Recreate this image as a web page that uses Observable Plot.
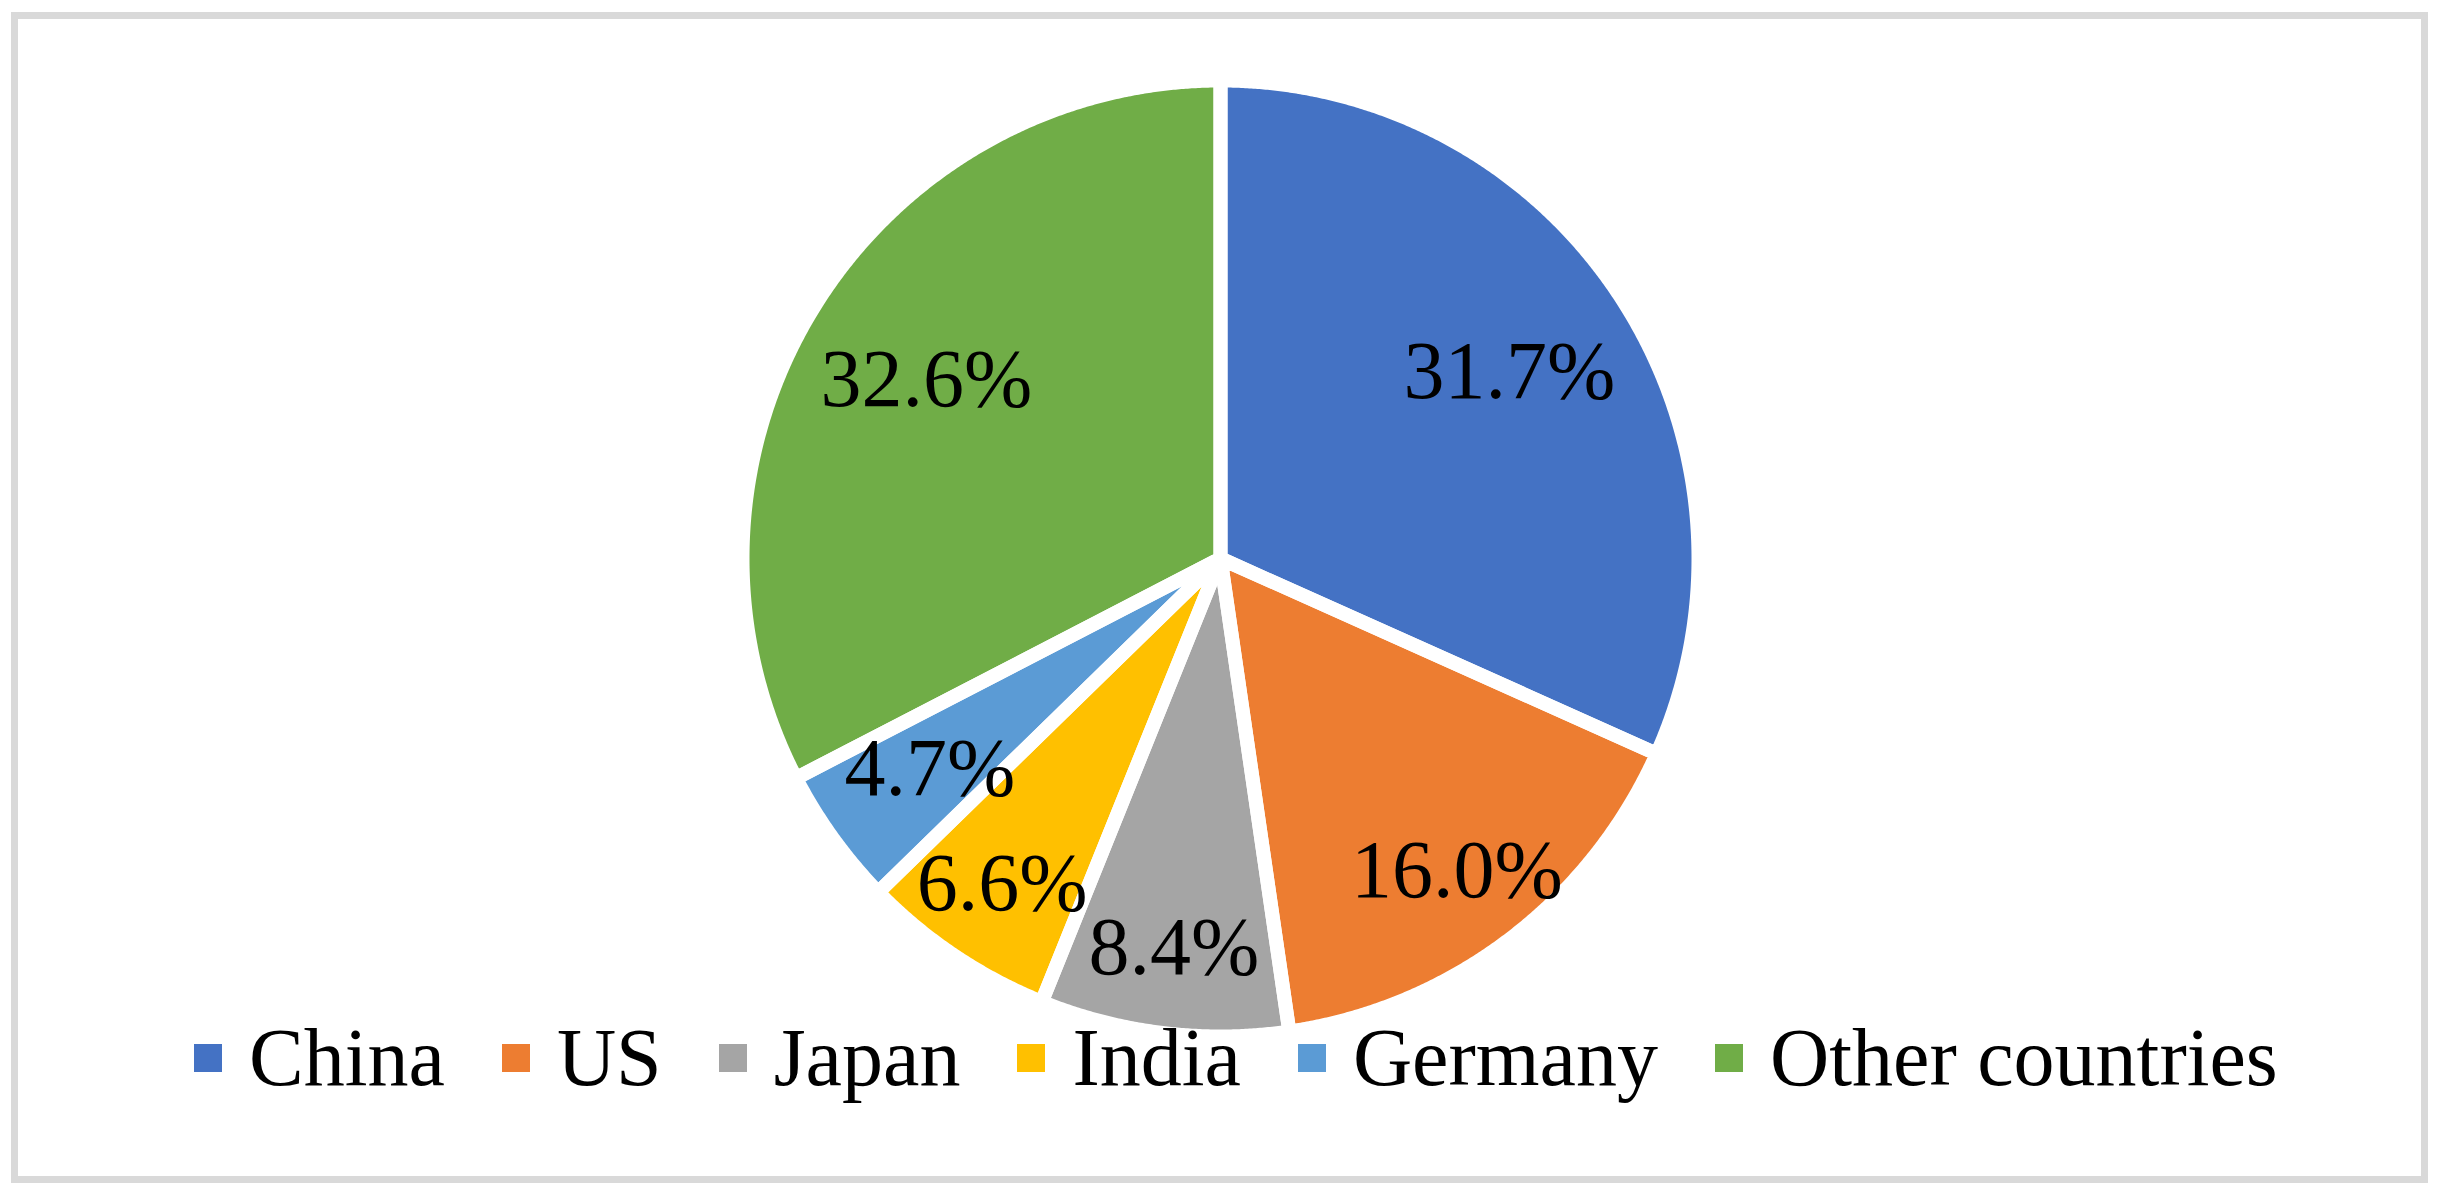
<!DOCTYPE html>
<html><head><meta charset="utf-8">
<script src="https://cdn.jsdelivr.net/npm/d3@7"></script>
<script src="https://cdn.jsdelivr.net/npm/@observablehq/plot@0.6"></script>
<style>
html,body{margin:0;padding:0;background:#fff;}
#wrap{position:relative;width:2441px;height:1196px;overflow:hidden;background:#fff;}
#frame{position:absolute;left:11px;top:12px;width:2417px;height:1171px;border:7px solid #d9d9d9;box-sizing:border-box;}
#chart{position:absolute;left:0;top:0;}
#legend{position:absolute;left:194px;top:1008px;}
.lg-swatches{font-family:"Liberation Serif","Times New Roman",serif;font-size:82px;color:#000;margin:0;height:100px;flex-wrap:nowrap;white-space:nowrap;}
.lg-swatch{margin-right:57px;}
.lg-swatch > svg{margin-right:27px;}
</style></head><body>
<div id="wrap"><div id="frame"></div><div id="chart"></div><div id="legend"></div></div>
<script>
const countries = ["China", "US", "Japan", "India", "Germany", "Other countries"];
const shares = [31.7, 16.0, 8.4, 6.6, 4.7, 32.6];
const colors = ["#4472C4", "#ED7D31", "#A5A5A5", "#FFC000", "#5B9BD5", "#70AD47"];

const W = 2441, H = 1045, CX = 1220, CY = 558, R = 478;
const rows = countries.map((name, i) => ({name, share: shares[i]}));
const arcs = d3.pie().sort(null).value(d => d.share).startAngle(0).endAngle(2 * Math.PI)(rows);

const outline = [];
for (const a of arcs) {
  outline.push({name: a.data.name, x: 0, y: 0});
  const n = Math.max(8, Math.ceil((a.endAngle - a.startAngle) / (Math.PI / 720)));
  for (let k = 0; k <= n; k++) {
    const t = a.startAngle + (a.endAngle - a.startAngle) * k / n;
    outline.push({name: a.data.name, x: R * Math.sin(t), y: R * Math.cos(t)});
  }
}
const labels = arcs.map(a => {
  const m = (a.startAngle + a.endAngle) / 2;
  const f = a.data.share > 25 ? 0.72 : (a.data.share < 5 ? 0.75 : 0.82);
  return {text: a.data.share.toFixed(1) + "%", x: f * R * Math.sin(m), y: f * R * Math.cos(m)};
});

const chart = Plot.plot({
  width: W, height: H, margin: 0,
  x: {domain: [-CX, W - CX], axis: null},
  y: {domain: [-(H - CY), CY], axis: null},
  color: {domain: countries, range: colors},
  style: {background: "transparent", overflow: "visible"},
  marks: [
    Plot.line(outline, {x: "x", y: "y", z: "name", fill: "name", stroke: "none", curve: "linear-closed"}),
    Plot.line(outline, {x: "x", y: "y", z: "name", stroke: "white", strokeWidth: 14, strokeLinejoin: "round", curve: "linear-closed"}),
    Plot.text(labels, {x: "x", y: "y", text: "text", fontSize: 82, fontFamily: "Liberation Serif", fill: "black", lineAnchor: "middle"})
  ]
});
document.getElementById("chart").appendChild(chart);

const leg = Plot.legend({legend: "swatches", color: {domain: countries, range: colors}, swatchSize: 28, className: "lg"});
document.getElementById("legend").appendChild(leg);
</script>
</body></html>
